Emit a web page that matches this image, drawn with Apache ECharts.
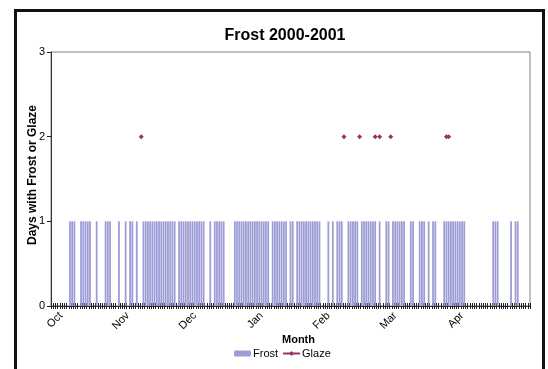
<!DOCTYPE html>
<html>
<head>
<meta charset="utf-8">
<script src="https://cdn.jsdelivr.net/npm/echarts@6/dist/echarts.min.js"></script>
<style>
  html, body { margin: 0; padding: 0; background: #fff; }
  #chart { width: 548px; height: 369px; }
</style>
</head>
<body>
<div id="chart"></div>
<script>
// Month names shown under the axis, one every 30 days
const monthLabels = ['Oct', 'Nov', 'Dec', 'Jan', 'Feb', 'Mar', 'Apr'];
const firstLabelDay = 4;
const labelStep = 30;

// Frost: 1 = day with frost, 0 = none (215 days starting 1 Oct 2000)
const frost = [
  0,0,0,0,0,0,0,0,1,1,
  1,0,0,1,1,1,1,1,0,0,
  1,0,0,0,1,1,1,0,0,0,
  1,0,0,1,0,1,1,0,1,0,
  0,1,1,1,1,1,1,1,1,1,
  1,1,1,1,1,1,0,1,1,1,
  1,1,1,1,1,1,1,1,1,0,
  0,1,0,1,1,1,1,1,0,0,
  0,0,1,1,1,1,1,1,1,1,
  1,1,1,1,1,1,1,1,0,1,
  1,1,1,1,1,1,0,1,1,0,
  1,1,1,1,1,1,1,1,1,1,
  1,0,0,0,1,0,1,0,1,1,
  1,0,0,1,1,1,1,1,0,1,
  1,1,1,1,1,1,0,1,0,0,
  1,1,0,1,1,1,1,1,1,0,
  0,1,1,0,0,1,1,1,0,1,
  0,1,1,0,0,0,1,1,1,1,
  1,1,1,1,1,1,0,0,0,0,
  0,0,0,0,0,0,0,0,1,1,
  1,0,0,0,0,0,1,0,1,1,
  0,0,0,0,0
];

// Glaze: day index and number of days recorded
const glazeDays = [40, 131, 138, 145, 147, 152, 177, 178];
const glazeValues = [2, 2, 2, 2, 2, 2, 2, 2];

const days = frost.map((_, i) => String(i));
const glaze = frost.map(() => null);
glazeDays.forEach((d, k) => { glaze[d] = glazeValues[k]; });

const FONT = 'Arial, "Liberation Sans", Helvetica, sans-serif';

const chart = echarts.init(document.getElementById('chart'), null, { renderer: 'canvas' });

const isLabelDay = (i) => i >= firstLabelDay && (i - firstLabelDay) % labelStep === 0;

chart.setOption({
  animation: false,
  backgroundColor: '#fff',
  title: {
    text: 'Frost 2000-2001',
    left: 280,
    top: 23,
    textAlign: 'center',
    textStyle: { fontFamily: FONT, fontSize: 16, fontWeight: 'bold', color: '#000' }
  },
  legend: {
    data: ['Frost', 'Glaze'],
    left: 234,
    top: 348,
    padding: 0,
    itemWidth: 17,
    itemHeight: 6,
    itemGap: 4,
    textStyle: { fontFamily: FONT, fontSize: 11, color: '#000', padding: [0, 0, 0, -3] }
  },
  grid: {
    left: 51, top: 52, right: 18, bottom: 63,
    show: true,
    borderColor: '#808080',
    borderWidth: 1
  },
  xAxis: [
    {
      type: 'category',
      data: days,
      boundaryGap: true,
      axisLine: { show: true, lineStyle: { color: '#333', width: 1 } },
      axisTick: { show: true, interval: 0, length: 3, inside: false, lineStyle: { color: '#222' } },
      axisLabel: {
        interval: (i) => isLabelDay(i),
        formatter: (v, i) => isLabelDay(i) ? monthLabels[(i - firstLabelDay) / labelStep] : '',
        rotate: 45,
        margin: 8,
        fontFamily: FONT,
        fontSize: 11,
        color: '#000'
      },
      splitLine: { show: false }
    },
    {
      type: 'category',
      data: days,
      position: 'bottom',
      boundaryGap: true,
      axisLine: { show: false },
      axisTick: { show: true, interval: 0, length: 3, inside: true, lineStyle: { color: '#222' } },
      axisLabel: { show: false },
      splitLine: { show: false }
    }
  ],
  yAxis: {
    type: 'value',
    min: 0,
    max: 3,
    interval: 1,
    axisLine: { show: true, lineStyle: { color: '#333', width: 1 } },
    axisTick: { show: true, length: 4, lineStyle: { color: '#222' } },
    axisLabel: { margin: 6, fontFamily: FONT, fontSize: 11, color: '#000' },
    splitLine: { show: false }
  },
  graphic: [
    {
      type: 'rect',
      shape: { x: 15.5, y: 10.5, width: 528, height: 420 },
      style: { fill: 'none', stroke: '#111', lineWidth: 3 },
      z: 100
    },
    {
      type: 'text',
      x: 33,
      y: 175,
      rotation: Math.PI / 2,
      style: {
        text: 'Days with Frost or Glaze',
        fontFamily: FONT,
        fontSize: 12,
        fontWeight: 'bold',
        fill: '#000',
        align: 'center',
        verticalAlign: 'middle'
      }
    },
    {
      type: 'text',
      left: 282,
      top: 334,
      style: {
        text: 'Month',
        fontFamily: FONT,
        fontSize: 11,
        fontWeight: 'bold',
        fill: '#000',
        textAlign: 'center'
      }
    }
  ],
  series: [
    {
      name: 'Frost',
      type: 'bar',
      data: frost,
      barCategoryGap: '20%',
      itemStyle: { color: '#9c9cd6' },
      z: 2
    },
    {
      name: 'Glaze',
      type: 'line',
      data: glaze,
      connectNulls: false,
      showSymbol: true,
      showAllSymbol: true,
      symbol: 'diamond',
      symbolSize: 5,
      itemStyle: { color: '#993366' },
      lineStyle: { color: '#993366', width: 1 },
      z: 3
    }
  ]
});
</script>
</body>
</html>
